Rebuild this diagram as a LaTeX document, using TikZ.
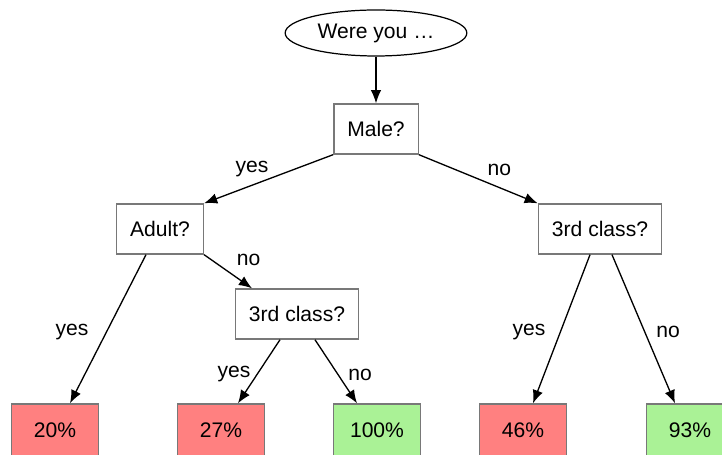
\documentclass[tikz,border=0pt]{standalone}
\usepackage{fontspec}
\setmainfont{Liberation Sans}
\usetikzlibrary{arrows.meta, shapes.geometric, calc}
\definecolor{lowred}{RGB}{255,128,128}
\definecolor{highgreen}{RGB}{170,242,150}
\definecolor{boxgray}{RGB}{120,120,120}

\begin{document}
\begin{tikzpicture}[x=0.02cm, y=-0.02cm,
    every node/.style={font=\fontsize{12}{14}\selectfont},
    question/.style={draw=boxgray, line width=0.8pt, minimum height=1.0cm, inner xsep=0.27cm},
    leaf/.style={draw=boxgray, line width=0.8pt, minimum width=1.74cm, minimum height=1.04cm},
    arr/.style={-{Latex[length=7.5pt, width=6pt]}, line width=0.75pt}]
    \useasboundingbox (0,0) rectangle (722,455);
    \node (start) [draw, ellipse, line width=0.7pt, minimum width=3.46cm, minimum height=0.92cm] at (376,33) {Were you \dots};
    \node (male) [question] at (376,129) {Male?};
    \node (adult) [question] at (160,229) {Adult?};
    \node (classL) [question] at (297,314) {3rd class?};
    \node (classR) [question] at (600,229) {3rd class?};
    \node (p20) [leaf, fill=lowred] at (55,430) {20\%};
    \node (p27) [leaf, fill=lowred] at (221,430) {27\%};
    \node (p100) [leaf, fill=highgreen] at (377,430) {100\%};
    \node (p46) [leaf, fill=lowred] at (523,430) {46\%};
    \node (p93) [leaf, fill=highgreen] at (690,430) {93\%};

    \draw[arr] (start) -- (male);
    \draw[arr] (male.south west) -- node[xshift=-0.33cm, yshift=0.19cm] {yes} (adult.north east);
    \draw[arr] (male.south east) -- node[xshift=0.42cm, yshift=0.19cm] {no} (classR.north west);
    \draw[arr] ($(adult.south)+(-14,0)$) -- node[xshift=-0.72cm, yshift=-0.06cm] {yes} ($(p20.north)+(15,0)$);
    \draw[arr] (adult.south east) -- node[xshift=0.41cm, yshift=0.24cm] {no} ($(classL.north)+(-45,0)$);
    \draw[arr] ($(classL.south)+(-17,0)$) -- node[xshift=-0.5cm, yshift=-0.06cm] {yes} ($(p27.north)+(17,0)$);
    \draw[arr] ($(classL.south)+(18,0)$) -- node[xshift=0.48cm, yshift=-0.06cm] {no} ($(p100.north)+(-20,0)$);
    \draw[arr] ($(classR.south)+(-10,0)$) -- node[xshift=-0.65cm, yshift=-0.06cm] {yes} ($(p46.north)+(10,0)$);
    \draw[arr] ($(classR.south)+(12,0)$) -- node[xshift=0.49cm, yshift=-0.06cm] {no} ($(p93.north)+(-15,0)$);
  \end{tikzpicture}
\end{document}
